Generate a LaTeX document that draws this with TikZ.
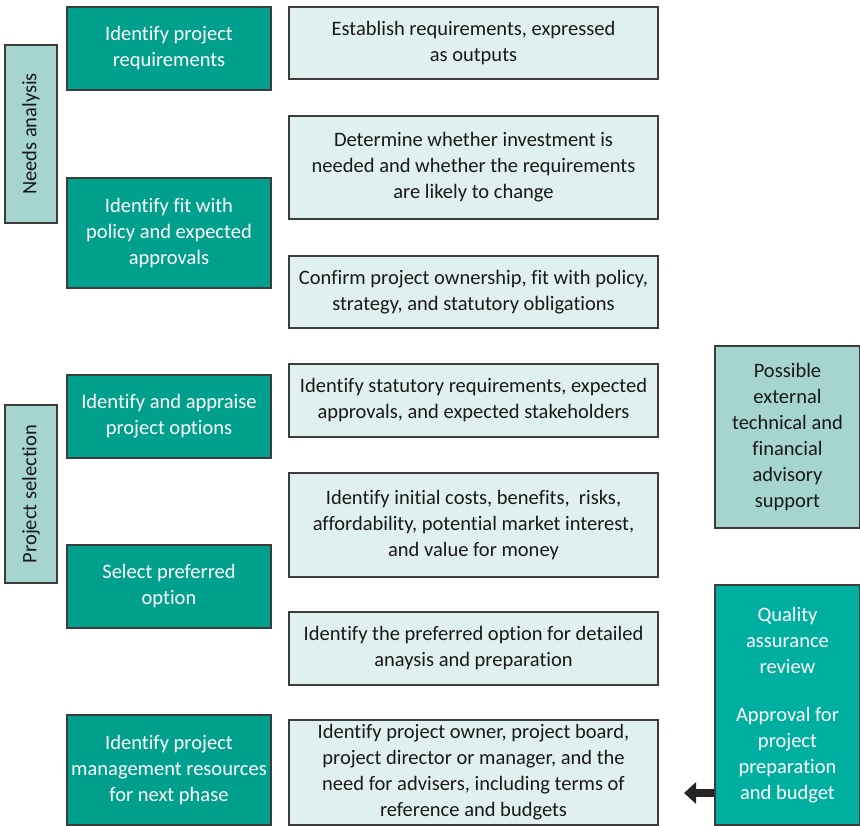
\documentclass[tikz,border=0pt]{standalone}
\usepackage{fontspec}
\setmainfont{Carlito}[Ligatures=NoCommon]
\usetikzlibrary{arrows.meta}
\definecolor{darkteal}{RGB}{0,160,140}
\definecolor{qateal}{RGB}{0,175,160}
\definecolor{midteal}{RGB}{166,213,208}
\definecolor{paleteal}{RGB}{224,240,238}
\definecolor{edge}{RGB}{60,60,60}
\begin{document}
\begin{tikzpicture}[x=1pt,y=-1pt,
  every node/.style={draw=edge, line width=1.2pt, inner sep=0pt, align=center,
    font=\fontsize{20.5}{26}\selectfont},
  darkbox/.style={fill=darkteal, text=white, minimum width=204pt},
  palebox/.style={fill=paleteal, text=black!90, minimum width=369pt},
  sidebox/.style={fill=midteal, text=black!90, minimum width=52pt, minimum height=178pt},
  rightbox/.style={minimum width=145pt},
]
\useasboundingbox (0,0) rectangle (860,826);
% side labels
\node[sidebox] (na) at (31,134) {\rotatebox{90}{Needs analysis}};
\node[sidebox] (ps) at (31,494) {\rotatebox{90}{Project selection}};
% left column
\node[darkbox, minimum height=83pt] (l1) at (169,48.5) {Identify project\\requirements};
\node[darkbox, minimum height=110pt] (l2) at (169,233) {Identify fit with\\policy and expected\\approvals};
\node[darkbox, minimum height=83pt] (l3) at (169,416.5) {Identify and appraise\\project options};
\node[darkbox, minimum height=83pt] (l4) at (169,586.5) {Select preferred\\option};
\node[darkbox, minimum height=110pt] (l5) at (169,770) {Identify project\\management resources\\for next phase};
% middle column
\node[palebox, minimum height=72pt] (m1) at (473.5,43) {Establish requirements, expressed\\as outputs};
\node[palebox, minimum height=103pt] (m2) at (473.5,167.5) {Determine whether investment is\\needed and whether the requirements\\are likely to change};
\node[palebox, minimum height=72pt] (m3) at (473.5,292) {Confirm project ownership, fit with policy,\\strategy, and statutory obligations};
\node[palebox, minimum height=73pt] (m4) at (473.5,400.5) {Identify statutory requirements, expected\\approvals, and expected stakeholders};
\node[palebox, minimum height=104pt] (m5) at (473.5,525) {Identify initial costs, benefits,\ \ risks,\\affordability, potential market interest,\\and value for money};
\node[palebox, minimum height=73pt] (m6) at (473.5,648.5) {Identify the preferred option for detailed\\anaysis and preparation};
\node[palebox, minimum height=105pt] (m7) at (473.5,772.5) {Identify project owner, project board,\\project director or manager, and the\\need for advisers, including terms of\\reference and budgets};
% right column
\node[rightbox, fill=midteal, text=black!90, minimum height=182pt] (pe) at (787.5,437) {Possible\\external\\technical and\\financial\\advisory\\support};
\node[rightbox, fill=qateal, text=white, minimum height=240pt] (qa) at (787.5,705) {Quality\\assurance\\review\\[22pt]Approval for\\project\\preparation\\and budget};
% arrow
\coordinate (tip) at (684,793);
\draw[draw=black!85, line width=8pt, -{Triangle[length=12pt, width=21pt]}] (qa.west |- tip) -- (tip);
\end{tikzpicture}
\end{document}
